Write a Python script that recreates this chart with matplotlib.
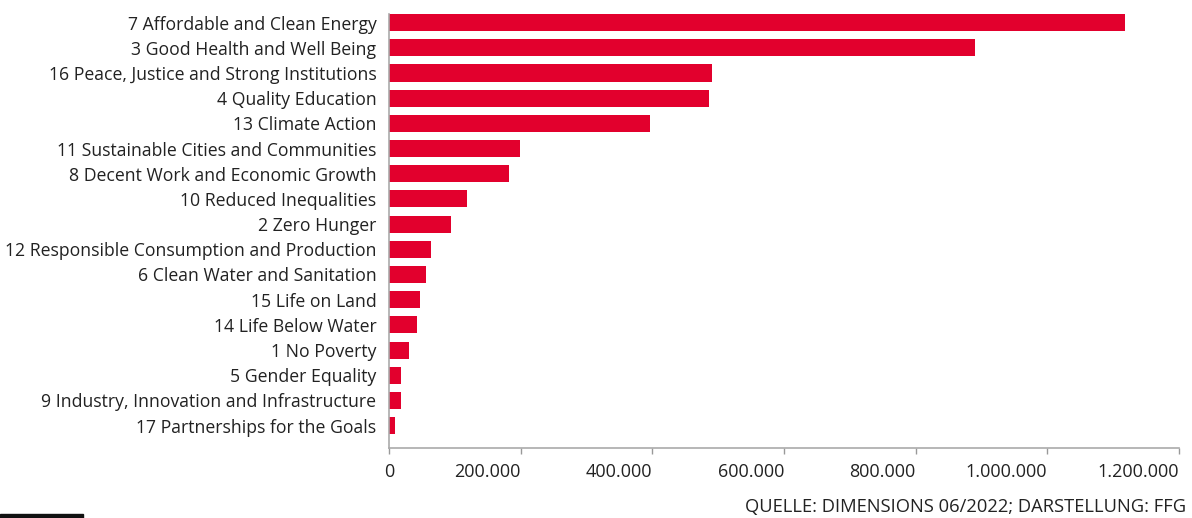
import matplotlib.pyplot as plt
from matplotlib.ticker import FuncFormatter

plt.rcParams["font.family"] = ["Open Sans", "DejaVu Sans"]

goals = [
    "7 Affordable and Clean Energy",
    "3 Good Health and Well Being",
    "16 Peace, Justice and Strong Institutions",
    "4 Quality Education",
    "13 Climate Action",
    "11 Sustainable Cities and Communities",
    "8 Decent Work and Economic Growth",
    "10 Reduced Inequalities",
    "2 Zero Hunger",
    "12 Responsible Consumption and Production",
    "6 Clean Water and Sanitation",
    "15 Life on Land",
    "14 Life Below Water",
    "1 No Poverty",
    "5 Gender Equality",
    "9 Industry, Innovation and Infrastructure",
    "17 Partnerships for the Goals",
]
publications = [1118000, 890000, 491000, 486000, 397000, 199000, 182000, 118000,
                94000, 64000, 56000, 47000, 43000, 31000, 19000, 19000, 9000]
xticks = [0, 200000, 400000, 600000, 800000, 1000000, 1200000]

fig = plt.figure(figsize=(11.92, 5.18), dpi=100)
ax = fig.add_axes([0.3263, 0.135, 0.9891 - 0.3263, 0.838])

ax.barh(range(len(goals)), publications, height=0.68, color="#E2002D")
ax.set_yticks(range(len(goals)))
ax.set_yticklabels(goals, fontsize=12.7, color="#222222")
ax.set_ylim(16.89, -0.34)
ax.set_xlim(0, 1200000)
ax.set_xticks(xticks)
ax.xaxis.set_major_formatter(FuncFormatter(lambda v, p: f"{int(v):,}".replace(",", ".")))
ax.tick_params(axis="x", labelsize=13, colors="#999999", labelcolor="#222222",
               length=4, width=1, pad=7)
ax.tick_params(axis="y", length=0, pad=9)
# labels sit left of their tick, except the zero
for i, lab in enumerate(ax.get_xticklabels()):
    lab.set_horizontalalignment("center" if i == 0 else "right")

for s in ["top", "right"]:
    ax.spines[s].set_visible(False)
ax.spines["left"].set_color("#aaaaaa")
ax.spines["bottom"].set_color("#aaaaaa")
ax.spines["left"].set_linewidth(1.2)
ax.spines["bottom"].set_linewidth(1.2)

fig.text(0.995, 0.004, "QUELLE: DIMENSIONS 06/2022; DARSTELLUNG: FFG",
         ha="right", va="bottom", fontsize=13.2, color="#222222")
fig.add_artist(plt.Rectangle((0, 0), 83 / 1192, 4 / 518, transform=fig.transFigure,
                             color="#111111", clip_on=False))

fig.savefig("out.png", dpi=100)
